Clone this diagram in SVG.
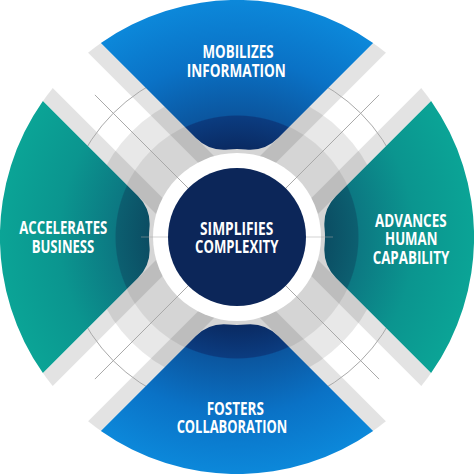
<svg xmlns="http://www.w3.org/2000/svg" width="474" height="474" viewBox="0 0 474 474">
<defs>
  <radialGradient id="gBlue" gradientUnits="userSpaceOnUse" cx="237" cy="237" r="237">
    <stop offset="0.37" stop-color="#0a2a62"/>
    <stop offset="0.51" stop-color="#0b3c80"/>
    <stop offset="0.515" stop-color="#0b569f"/>
    <stop offset="0.75" stop-color="#0a72c6"/>
    <stop offset="1" stop-color="#0c88da"/>
  </radialGradient>
  <radialGradient id="gTeal" gradientUnits="userSpaceOnUse" cx="237" cy="237" r="237">
    <stop offset="0.37" stop-color="#0b4d63"/>
    <stop offset="0.51" stop-color="#0c5f70"/>
    <stop offset="0.515" stop-color="#0c7882"/>
    <stop offset="0.75" stop-color="#0b958f"/>
    <stop offset="1" stop-color="#0ba496"/>
  </radialGradient>
  <clipPath id="disk"><circle cx="237" cy="237" r="237"/></clipPath>
  <path id="petal" d="M100.9,42.9 A237,237 0 0 1 373.1,42.9 L278.07,137.92 A40,40 0 0 1 245.79,149.44 A88,88 0 0 0 228.21,149.44 A40,40 0 0 1 195.93,137.92 Z"/>
</defs>
<style>
  .lbl { font-family: "Open Sans", "Liberation Sans", sans-serif; font-weight: 700; font-size: 18.5px; fill: #ffffff; text-anchor: middle; }
  .strip { fill: #000000; fill-opacity: 0.11; }
  .thin { stroke: #a9a9a9; stroke-width: 1; fill: none; }
</style>
<rect width="474" height="474" fill="#ffffff"/>
<g id="bands" clip-path="url(#disk)">
  <g transform="rotate(45 237 237)">
    <rect x="-100" y="196" width="674" height="16" class="strip"/>
    <rect x="-100" y="262" width="674" height="16" class="strip"/>
  </g>
  <g transform="rotate(-45 237 237)">
    <rect x="-100" y="196" width="674" height="16" class="strip"/>
    <rect x="-100" y="262" width="674" height="16" class="strip"/>
  </g>
  <circle cx="237" cy="237" r="149" fill="#000000" fill-opacity="0.09"/>
  <circle cx="237" cy="237" r="122" fill="#000000" fill-opacity="0.08"/>
  <circle cx="237" cy="237" r="175" class="thin"/>
</g>
<g id="petal-top">
  <use href="#petal" fill="url(#gBlue)"/>
  <text class="lbl" x="238" y="58.3" textLength="71" lengthAdjust="spacingAndGlyphs">MOBILIZES</text>
  <text class="lbl" x="236.3" y="76.7" textLength="99" lengthAdjust="spacingAndGlyphs">INFORMATION</text>
</g>
<g id="petal-right">
  <use href="#petal" transform="rotate(90 237 237)" fill="url(#gTeal)"/>
  <text class="lbl" x="410.8" y="226.7" textLength="71.5" lengthAdjust="spacingAndGlyphs">ADVANCES</text>
  <text class="lbl" x="411.2" y="245.3" textLength="52.3" lengthAdjust="spacingAndGlyphs">HUMAN</text>
  <text class="lbl" x="411" y="264" textLength="76.7" lengthAdjust="spacingAndGlyphs">CAPABILITY</text>
</g>
<g id="petal-bottom">
  <use href="#petal" transform="rotate(180 237 237)" fill="url(#gBlue)"/>
  <text class="lbl" x="235.3" y="415" textLength="57.3" lengthAdjust="spacingAndGlyphs">FOSTERS</text>
  <text class="lbl" x="232" y="433.3" textLength="110.7" lengthAdjust="spacingAndGlyphs">COLLABORATION</text>
</g>
<g id="petal-left">
  <use href="#petal" transform="rotate(270 237 237)" fill="url(#gTeal)"/>
  <text class="lbl" x="63.3" y="234.3" textLength="88" lengthAdjust="spacingAndGlyphs">ACCELERATES</text>
  <text class="lbl" x="63" y="252.7" textLength="62.6" lengthAdjust="spacingAndGlyphs">BUSINESS</text>
</g>
<g id="center">
  <circle cx="237" cy="237" r="84" fill="#ffffff"/>
  <g id="lines" class="thin">
    <line x1="94.9" y1="94.9" x2="188.2" y2="188.2"/>
    <line x1="379.1" y1="94.9" x2="285.8" y2="188.2"/>
    <line x1="94.9" y1="379.1" x2="188.2" y2="285.8"/>
    <line x1="379.1" y1="379.1" x2="285.8" y2="285.8"/>
    <line x1="141" y1="237" x2="168" y2="237" stroke-opacity="0.5"/>
    <line x1="306" y1="237" x2="333" y2="237" stroke-opacity="0.5"/>
  </g>
  <circle cx="237" cy="237" r="69" fill="#0c2659"/>
  <text class="lbl" x="236.7" y="235" textLength="73.3" lengthAdjust="spacingAndGlyphs">SIMPLIFIES</text>
  <text class="lbl" x="236.7" y="253.3" textLength="83.3" lengthAdjust="spacingAndGlyphs">COMPLEXITY</text>
</g>
</svg>
